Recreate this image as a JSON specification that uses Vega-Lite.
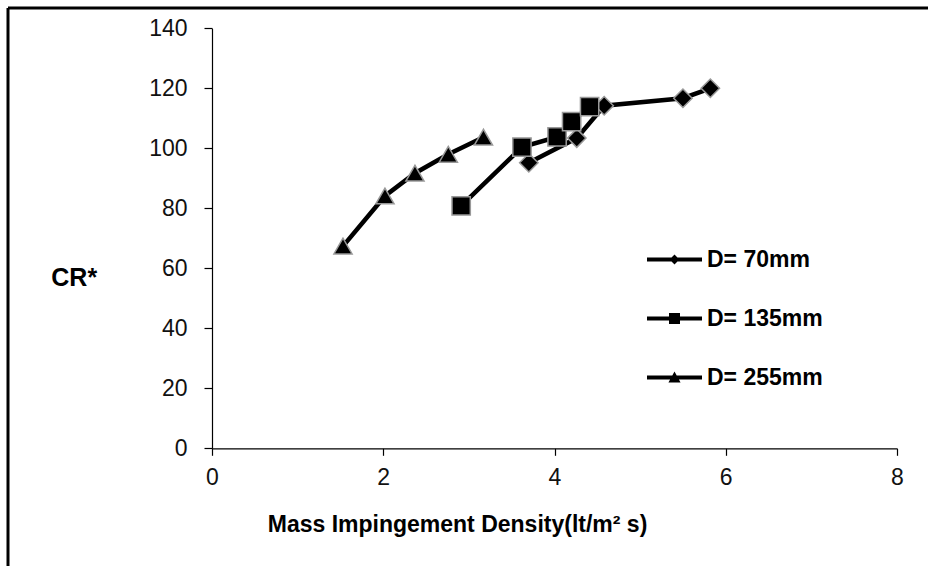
{
  "$schema": "https://vega.github.io/schema/vega-lite/v6.json",
  "width": 920,
  "height": 558,
  "autosize": {"type": "none"},
  "padding": {"left": 8, "top": 8, "right": 0, "bottom": 0},
  "background": "white",
  "config": {
    "view": {"stroke": "black", "strokeWidth": 3, "strokeDash": [920, 1478, 558, 0]},
    "font": "Liberation Sans"
  },
  "data": {
    "values": [
      {"D": "D= 70mm", "x": 3.70, "y": 95.2},
      {"D": "D= 70mm", "x": 4.26, "y": 103.4},
      {"D": "D= 70mm", "x": 4.58, "y": 114.2},
      {"D": "D= 70mm", "x": 5.50, "y": 116.7},
      {"D": "D= 70mm", "x": 5.82, "y": 120.0},
      {"D": "D= 135mm", "x": 2.91, "y": 80.8},
      {"D": "D= 135mm", "x": 3.62, "y": 100.4},
      {"D": "D= 135mm", "x": 4.03, "y": 103.8},
      {"D": "D= 135mm", "x": 4.20, "y": 108.9},
      {"D": "D= 135mm", "x": 4.41, "y": 113.9},
      {"D": "D= 255mm", "x": 1.53, "y": 67.4},
      {"D": "D= 255mm", "x": 2.02, "y": 84.1},
      {"D": "D= 255mm", "x": 2.37, "y": 91.7},
      {"D": "D= 255mm", "x": 2.76, "y": 98.0},
      {"D": "D= 255mm", "x": 3.17, "y": 103.7}
    ]
  },
  "encoding": {
    "x": {
      "field": "x", "type": "quantitative",
      "scale": {"domain": [0, 8], "range": [204, 889], "nice": false, "zero": false},
      "axis": {
        "title": "Mass Impingement Density(lt/m² s)",
        "values": [0, 2, 4, 6, 8],
        "grid": false,
        "offset": -117.7,
        "domainColor": "black", "domainWidth": 1.2,
        "tickColor": "black", "tickSize": 7, "tickWidth": 1.2,
        "labelFont": "Liberation Sans", "labelFontSize": 23, "labelColor": "#111", "labelPadding": 11,
        "labelFlush": false, "labelOverlap": false,
        "titleFont": "Liberation Sans", "titleFontSize": 23, "titleFontWeight": "bold", "titleColor": "black",
        "titleX": 449, "titleY": 83.4, "titleBaseline": "alphabetic", "titleAlign": "center", "titleAnchor": null
      }
    },
    "y": {
      "field": "y", "type": "quantitative",
      "scale": {"domain": [0, 140], "range": [440.3, 20.3], "nice": false, "zero": false},
      "axis": {
        "title": "CR*",
        "values": [0, 20, 40, 60, 80, 100, 120, 140],
        "grid": false,
        "offset": -204,
        "domainColor": "black", "domainWidth": 1.2,
        "tickColor": "black", "tickSize": 8, "tickWidth": 1.2,
        "labelFont": "Liberation Sans", "labelFontSize": 23, "labelColor": "#111", "labelPadding": 17,
        "labelFlush": false, "labelOverlap": false,
        "titleFont": "Liberation Sans", "titleFontSize": 25, "titleFontWeight": "bold", "titleColor": "black",
        "titleAngle": 0, "titleX": -138.3, "titleY": 277.7, "titleBaseline": "alphabetic", "titleAlign": "center", "titleAnchor": null
      }
    }
  },
  "layer": [
    {
      "mark": {"type": "line", "color": "black", "strokeWidth": 4.5},
      "encoding": {"detail": {"field": "D"}}
    },
    {
      "mark": {"type": "point", "filled": true, "fill": "black", "stroke": "#999999", "strokeWidth": 1.5, "opacity": 1},
      "encoding": {
        "shape": {
          "field": "D", "type": "nominal",
          "scale": {"domain": ["D= 70mm", "D= 135mm", "D= 255mm"], "range": ["diamond", "square", "triangle-up"]},
          "legend": null
        },
        "size": {
          "field": "D", "type": "nominal",
          "scale": {"domain": ["D= 70mm", "D= 135mm", "D= 255mm"], "range": [340, 330, 460]},
          "legend": null
        }
      }
    },
    {
      "mark": {"type": "point", "filled": true, "fill": "black", "opacity": 0, "size": 3025},
      "encoding": {
        "shape": {
          "field": "D", "type": "nominal",
          "scale": {
            "domain": ["D= 70mm", "D= 135mm", "D= 255mm"],
            "range": [
              "M-1,-0.075H1V0.075H-1Z M0,-0.18L0.18,0L0,0.18L-0.18,0Z",
              "M-1,-0.075H1V0.075H-1Z M-0.2,-0.2H0.2V0.2H-0.2Z",
              "M-1,-0.075H1V0.075H-1Z M0,-0.22L0.22,0.18H-0.22Z"
            ]
          },
          "legend": {
            "title": null,
            "orient": "none",
            "legendX": 639,
            "legendY": 224,
            "padding": 0,
            "symbolSize": 3025,
            "symbolStrokeWidth": 0,
            "symbolFillColor": "black",
            "symbolOpacity": 1,
            "labelFont": "Liberation Sans",
            "labelFontSize": 23,
            "labelFontWeight": "bold",
            "labelColor": "black",
            "labelOffset": 5,
            "rowPadding": 19,
            "encode": {
              "symbols": {"update": {"opacity": {"value": 1}, "fill": {"value": "black"}, "fillOpacity": {"value": 1}, "strokeWidth": {"value": 0}}}
            }
          }
        }
      }
    }
  ],
  "resolve": {"scale": {"shape": "independent"}, "legend": {"shape": "independent"}}
}
